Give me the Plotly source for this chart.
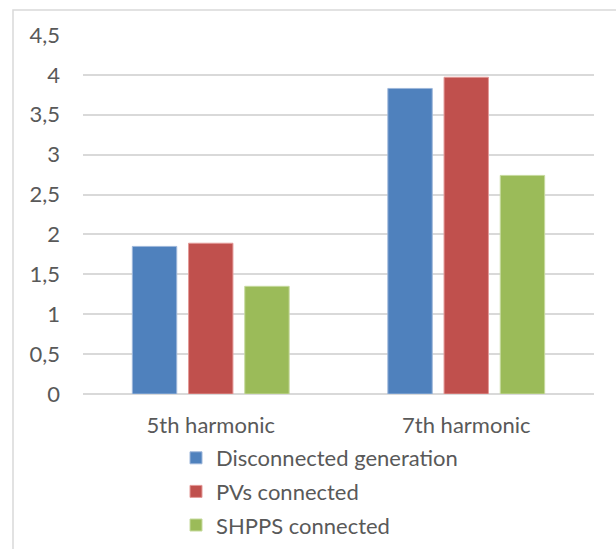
import plotly.graph_objects as go

# Harmonic distortion by generation scenario
categories = ["5th harmonic", "7th harmonic"]
series_names = ["Disconnected generation", "PVs connected", "SHPPS connected"]
disconnected = [1.85, 3.83]
pvs = [1.89, 3.97]
shpps = [1.35, 2.74]
y_ticks = [0, 0.5, 1, 1.5, 2, 2.5, 3, 3.5, 4, 4.5]
y_tick_labels = ["0", "0,5", "1", "1,5", "2", "2,5", "3", "3,5", "4", "4,5"]

colors = ["#4F81BD", "#C0504D", "#9BBB59"]
edge_colors = ["#9DB6DA", "#E39A98", "#C6DA9E"]
font_family = "Lato, 'Open Sans', sans-serif"
text_color = "#595959"
grid_color = "#D9D9D9"

fig = go.Figure()
for i, (name, vals) in enumerate(zip(series_names, [disconnected, pvs, shpps])):
    fig.add_trace(go.Bar(
        x=categories, y=vals, name=name,
        legendgroup=name,
        marker=dict(color=colors[i], line=dict(color=edge_colors[i], width=1)),
    ))

W, H = 616, 549
ml, mr, mt, mb = 83, 22, 35, 155
pw, ph = W - ml - mr, H - mt - mb

fig.update_layout(
    width=W, height=H,
    margin=dict(l=ml, r=mr, t=mt, b=mb, pad=0, autoexpand=False),
    paper_bgcolor="white", plot_bgcolor="white",
    barmode="group", bargap=0.34, bargroupgap=0.21,
    font=dict(family=font_family, color=text_color, size=22),
    showlegend=True,
    legend=dict(
        orientation="v",
        xref="container", yref="container",
        x=176 / W, xanchor="left",
        y=1 - 437 / H, yanchor="top",
        font=dict(size=22, color=text_color),
        tracegroupgap=2,
        itemwidth=30,
        bgcolor="rgba(0,0,0,0)",
    ),
    xaxis=dict(
        showgrid=False, showline=False, zeroline=False,
        ticks="", tickfont=dict(size=22, color=text_color),
        ticklabelstandoff=16,
    ),
    yaxis=dict(
        range=[0, 4.5], tickvals=y_ticks, ticktext=y_tick_labels,
        showgrid=True, gridcolor=grid_color, gridwidth=1.5,
        zeroline=True, zerolinecolor=grid_color, zerolinewidth=1.5,
        showline=False, ticks="",
        tickfont=dict(size=22, color=text_color),
        ticklabelstandoff=22,
    ),
    shapes=[dict(
        type="rect", xref="paper", yref="paper", layer="below",
        x0=(13 - ml) / pw, x1=1.2,
        y0=-0.6, y1=(H - mb - 10) / ph,
        line=dict(color=grid_color, width=1.5), fillcolor="rgba(0,0,0,0)",
    )],
)

fig.write_html("out.html")
